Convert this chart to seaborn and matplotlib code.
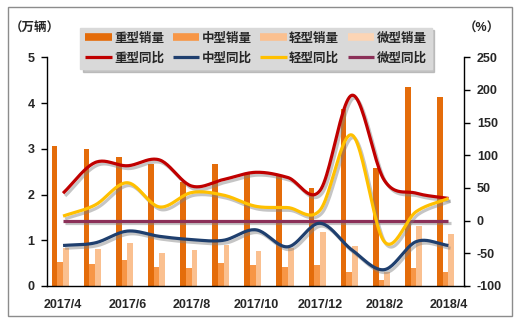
import numpy as np
import pandas as pd
import matplotlib
matplotlib.use("Agg")
import matplotlib.pyplot as plt
import matplotlib.patheffects as pe
from matplotlib.lines import Line2D
from matplotlib.patches import Rectangle
import seaborn as sns

# ---- data -------------------------------------------------------------
months = ["2017/4", "2017/5", "2017/6", "2017/7", "2017/8", "2017/9", "2017/10",
          "2017/11", "2017/12", "2018/1", "2018/2", "2018/3", "2018/4"]

heavy_sales = [3.05, 3.00, 2.81, 2.66, 2.27, 2.67, 2.45, 2.40, 2.15, 3.87, 2.59, 4.36, 4.14]
medium_sales = [0.53, 0.48, 0.57, 0.42, 0.39, 0.50, 0.47, 0.42, 0.46, 0.31, 0.13, 0.39, 0.30]
light_sales = [0.84, 0.81, 0.93, 0.73, 0.79, 0.90, 0.77, 0.84, 1.19, 0.87, 0.31, 1.32, 1.14]
micro_sales = [0, 0, 0, 0, 0, 0, 0, 0, 0, 0, 0, 0, 0]

heavy_yoy = [42, 89, 84, 93, 53, 63, 74, 66, 46, 192, 62, 42, 34]
medium_yoy = [-38, -34, -16, -24, -29, -30, -14, -40, -4, -45, -75, -32, -38]
light_yoy = [7, 24, 58, 21, 43, 39, 22, 20, 16, 131, -32, 14, 34]
micro_yoy = [0, 0, 0, 0, 0, 0, 0, 0, 0, 0, 0, 0, 0]

sales_names = ["重型销量", "中型销量", "轻型销量", "微型销量"]
yoy_names = ["重型同比", "中型同比", "轻型同比", "微型同比"]
bar_colors = ["#E46C0A", "#F79646", "#FAC090", "#FCD5B5"]
line_colors = ["#C00000", "#1F3F6E", "#FFC000", "#8B3058"]

left_ticks = [0, 1, 2, 3, 4, 5]
right_ticks = [-100, -50, 0, 50, 100, 150, 200, 250]

# ---- style ------------------------------------------------------------
sns.set_style("white")
plt.rcParams["font.family"] = ["Liberation Sans", "Noto Sans CJK SC"]
plt.rcParams["font.weight"] = "bold"

fig = plt.figure(figsize=(5.21, 3.30), dpi=100)
fig.patch.set_facecolor("white")
ax = fig.add_axes([47 / 521, 1 - 286 / 330, (464.5 - 47) / 521, (286 - 57.3) / 330])

# ---- bars -------------------------------------------------------------
sales = pd.DataFrame({
    "month": months * 4,
    "value": heavy_sales + medium_sales + light_sales + micro_sales,
    "type": sum([[n] * len(months) for n in sales_names], []),
})
sns.barplot(data=sales, x="month", y="value", hue="type", hue_order=sales_names,
            palette=bar_colors, saturation=1, width=0.71, dodge=True,
            legend=False, ax=ax, linewidth=0)

ax.set_xlim(-0.5, len(months) - 0.5)
ax.set_ylim(0, 5)
ax.set_yticks(left_ticks)
ax.set_yticklabels([str(t) for t in left_ticks], fontsize=9, fontweight="bold")
ax.set_xlabel("")
ax.set_ylabel("")
ax.set_xticks(range(0, len(months), 2))
ax.set_xticklabels(months[::2], fontsize=9, fontweight="bold")
ax.set_xticks(np.arange(-0.5, len(months), 1), minor=True)
ax.tick_params(axis="x", which="major", length=0, pad=9)
ax.tick_params(axis="x", which="minor", length=4, width=1, color="black", direction="out")
ax.tick_params(axis="y", length=4, width=1, color="black", direction="out", pad=5, left=True)
for s in ["top", "right"]:
    ax.spines[s].set_visible(False)
for s in ["left", "bottom"]:
    ax.spines[s].set_color("black")
    ax.spines[s].set_linewidth(1)

# ---- smoothed YoY lines on the secondary axis -------------------------
ax2 = ax.twinx()


def smooth_curve(values, n=24):
    """Cubic Hermite spline through the monthly points (smoothed line look)."""
    y = np.asarray(values, dtype=float)
    m = np.gradient(y)
    xs, ys = [], []
    t = np.linspace(0, 1, n, endpoint=False)
    h00 = 2 * t**3 - 3 * t**2 + 1
    h10 = t**3 - 2 * t**2 + t
    h01 = -2 * t**3 + 3 * t**2
    h11 = t**3 - t**2
    for i in range(len(y) - 1):
        xs.append(i + t)
        ys.append(h00 * y[i] + h10 * m[i] + h01 * y[i + 1] + h11 * m[i + 1])
    xs.append([len(y) - 1])
    ys.append([y[-1]])
    return np.concatenate(xs), np.concatenate(ys)


shadow = [pe.SimpleLineShadow(offset=(1.5, -2), shadow_color="#7f7f7f", alpha=0.45),
          pe.Normal()]
for vals, col in zip([micro_yoy, heavy_yoy, medium_yoy, light_yoy],
                     [line_colors[3], line_colors[0], line_colors[1], line_colors[2]]):
    xs, ys = smooth_curve(vals)
    sns.lineplot(x=xs, y=ys, ax=ax2, color=col, linewidth=2.3, sort=False,
                 estimator=None)
    ax2.lines[-1].set_path_effects(shadow)
    ax2.lines[-1].set_solid_capstyle("butt")

ax2.set_ylim(-100, 250)
ax2.set_yticks(right_ticks)
ax2.set_yticklabels([str(t) for t in right_ticks], fontsize=9, fontweight="bold")
ax2.tick_params(axis="y", length=4, width=1, color="black", direction="out", pad=5, right=True)
ax2.set_ylabel("")
for s in ["top", "left", "bottom"]:
    ax2.spines[s].set_visible(False)
ax2.spines["right"].set_color("black")
ax2.spines["right"].set_linewidth(1)
ax2.set_xlim(-0.5, len(months) - 0.5)

# ---- unit labels ------------------------------------------------------
fig.text(35 / 521, 1 - 29 / 330, "（万辆）", ha="center", va="center",
         fontsize=9, fontweight="bold")
fig.text(482 / 521, 1 - 29 / 330, "（%）", ha="center", va="center",
         fontsize=9, fontweight="bold")

# ---- legend -----------------------------------------------------------
handles, labels = [], []
for i in range(4):
    handles.append(Line2D([0], [0], color=bar_colors[i], linewidth=5.5, solid_capstyle="butt"))
    labels.append(sales_names[i])
    handles.append(Line2D([0], [0], color=line_colors[i], linewidth=2.3, solid_capstyle="butt"))
    labels.append(yoy_names[i])
leg = fig.legend(handles, labels, ncol=4, loc="center",
                 bbox_to_anchor=(256 / 521, 1 - 48.5 / 330),
                 prop={"size": 9, "weight": "bold"},
                 handlelength=2.1, handletextpad=0.2, columnspacing=0.7,
                 labelspacing=0.6, borderpad=0.4, frameon=True, fancybox=False,
                 shadow={"color": "#a0a0a0", "alpha": 0.6})
leg.get_frame().set_facecolor("#D9D9D9")
leg.get_frame().set_edgecolor("#D9D9D9")
leg.get_frame().set_alpha(1)

# ---- outer border -----------------------------------------------------
fig.patches.append(Rectangle((8 / 521, 1 - 316 / 330), (512 - 8) / 521, (316 - 7) / 330,
                             transform=fig.transFigure, fill=False,
                             edgecolor="#8c8c8c", linewidth=1))

fig.savefig("out.png", dpi=100)
